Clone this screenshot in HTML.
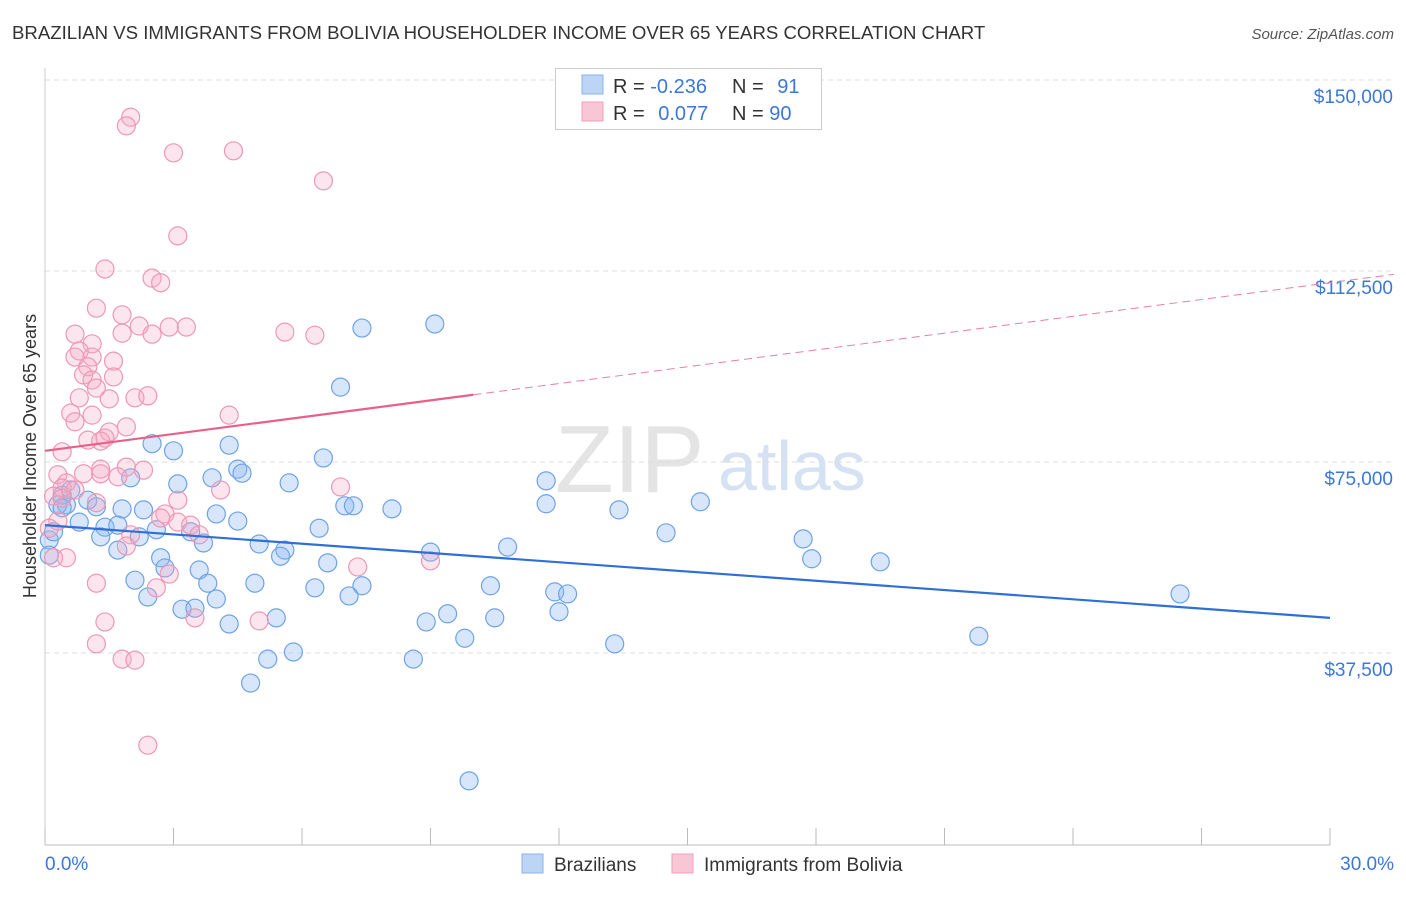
<!DOCTYPE html>
<html><head><meta charset="utf-8"><style>
body{margin:0;background:#fff;font-family:"Liberation Sans",sans-serif;}
svg text{font-family:"Liberation Sans",sans-serif;}
</style></head><body>
<svg id="chart" width="1406" height="892">
<text x="12" y="39" font-size="18.6" fill="#333">BRAZILIAN VS IMMIGRANTS FROM BOLIVIA HOUSEHOLDER INCOME OVER 65 YEARS CORRELATION CHART</text>
<text x="1394" y="39" font-size="15" fill="#555" text-anchor="end" font-style="italic">Source: ZipAtlas.com</text>
<text x="36" y="456" font-size="18" fill="#333" text-anchor="middle" transform="rotate(-90 36 456)">Householder Income Over 65 years</text>
<text x="555" y="492" font-size="96" fill="#e4e4e4" font-family="Liberation Serif">ZIP</text>
<text x="718" y="490" font-size="70" fill="#d4e2f4">atlas</text>
<g id="grid"></g><g id="axes"></g><g id="pts"></g><g id="trends"></g>
<g>
<rect x="555.5" y="68.5" width="266" height="61" fill="#fff" stroke="#ccc"/>
<rect x="582" y="75" width="21" height="19" fill="#bcd5f5" stroke="#8ab4ea"/>
<rect x="582" y="102" width="21" height="19" fill="#f9c6d5" stroke="#f0a0b8"/>
<text x="613" y="93" font-size="20" fill="#333">R = <tspan fill="#3b78d8">-0.236</tspan></text>
<text x="732" y="93" font-size="20" fill="#333">N = <tspan fill="#3b78d8" dx="8">91</tspan></text>
<text x="613" y="120" font-size="20" fill="#333">R = <tspan fill="#3b78d8" dx="8">0.077</tspan></text>
<text x="732" y="120" font-size="20" fill="#333">N = <tspan fill="#3b78d8">90</tspan></text>
</g>
<g>
<rect x="522" y="854" width="21" height="19" fill="#bcd5f5" stroke="#8ab4ea"/>
<text x="554" y="871" font-size="19" fill="#333">Brazilians</text>
<rect x="672" y="854" width="21" height="19" fill="#f9c6d5" stroke="#f0a0b8"/>
<text x="704" y="871" font-size="19" fill="#333">Immigrants from Bolivia</text>
</g>
</svg>
<script>
const yTicks=[37500,75000,112500,150000];
const yTickLabels=["$37,500","$75,000","$112,500","$150,000"];
const xTickLabels=["0.0%","30.0%"];
const blueX=[9.1,7.4,6.9,2.5,3.0,4.3,6.5,4.5,4.6,3.9,2.0,3.1,5.7,11.7,15.3,0.4,0.6,1.0,0.5,0.3,0.4,1.2,1.8,2.3,4.0,6.4,7.0,7.2,8.1,13.4,11.7,4.5,0.8,1.4,1.7,1.3,2.2,2.6,3.4,3.7,5.0,5.6,5.5,9.0,10.8,14.5,17.7,17.9,19.5,1.7,2.7,2.8,3.6,6.6,2.1,3.8,4.9,6.3,7.4,7.1,10.4,11.9,12.2,2.4,4.0,3.2,3.5,12.0,9.4,10.5,8.9,5.4,4.3,26.5,21.8,9.8,13.3,5.8,5.2,8.6,4.8,9.9,0.1,0.1,0.2];
const blueY=[102.1,101.3,89.7,78.6,77.2,78.3,75.8,73.6,72.8,71.9,71.9,70.7,70.9,71.3,67.2,68.5,69.5,67.5,66.6,66.6,66.0,66.2,65.8,65.6,64.8,62.0,66.4,66.4,65.8,65.6,66.8,63.4,63.2,62.2,62.6,60.3,60.3,61.7,61.3,59.1,58.9,57.7,56.5,57.3,58.3,61.1,59.9,56.0,55.4,57.7,56.2,54.2,53.8,55.2,51.8,51.2,51.2,50.3,50.7,48.7,50.7,49.5,49.1,48.5,48.1,46.1,46.3,45.6,45.2,44.4,43.6,44.4,43.2,49.1,40.8,40.4,39.3,37.7,36.3,36.3,31.6,12.4,59.7,56.7,61.3];
const pinkX=[2.0,1.9,3.0,4.4,6.5,3.1,1.4,2.5,2.7,1.2,1.8,2.2,2.9,3.3,5.6,6.3,0.7,1.8,2.5,1.1,0.8,1.1,0.7,1.6,1.0,0.9,1.1,1.6,1.2,0.8,1.5,2.1,2.4,0.6,1.1,4.3,0.7,1.9,1.5,1.4,1.0,1.3,0.4,1.3,1.9,2.3,0.3,0.9,1.3,1.7,0.5,0.4,0.7,6.9,4.1,3.1,1.2,0.2,0.4,2.8,2.7,3.1,3.4,3.6,0.3,0.1,2.0,1.9,0.2,0.5,7.3,9.0,2.9,2.6,1.2,3.5,5.0,1.4,1.2,1.8,2.1,2.4];
const pinkY=[142.7,141.0,135.7,136.1,130.2,119.4,112.9,111.1,110.2,105.2,103.9,101.7,101.5,101.5,100.5,99.9,100.1,100.3,100.1,98.2,96.8,95.6,95.6,94.8,93.7,92.1,91.1,91.7,89.5,87.6,87.4,87.6,88.0,84.6,84.2,84.2,82.9,81.9,80.9,79.7,79.3,79.1,77.0,73.6,74.0,73.4,72.5,72.7,72.7,72.1,70.9,69.9,69.5,70.1,69.5,67.5,67.0,68.3,67.9,64.8,64.0,63.2,62.6,60.7,63.4,62.0,60.7,58.5,56.2,56.2,54.4,55.6,53.0,50.3,51.2,44.4,43.8,43.6,39.3,36.3,36.1,19.4];
const blueTrend=[62.6,44.4];
const pinkTrend=[77.2,110.2];
const pinkSolidEnd=10;
const NS="http://www.w3.org/2000/svg";
const X0=45,X1=1330,YB=844,PX_PER_K=191/37.5;
const xs=p=>X0+p/30*(X1-X0);
const ys=k=>YB-k*PX_PER_K;
function mk(tag,attrs,parent){const e=document.createElementNS(NS,tag);for(const k in attrs)e.setAttribute(k,attrs[k]);document.getElementById(parent).appendChild(e);return e;}
yTicks.forEach((v,i)=>{
  const y=ys(v/1000);
  const g=mk('line',{x1:45,x2:1394,y1:y,y2:y,stroke:'#ddd','stroke-dasharray':'5,4'},'grid');
  
  
  const t=mk('text',{x:1393,y:y+23,'font-size':19,fill:'#3b78d8','text-anchor':'end'},'axes');
  t.textContent=yTickLabels[i];
  
  
});
const ax=mk('line',{x1:45,x2:1330,y1:845,y2:845,stroke:'#bbb'},'axes');


const ay=mk('line',{x1:45,x2:45,y1:68,y2:845,stroke:'#ccc'},'axes');


for(let i=0;i<=10;i++){const x=xs(i*3);const t=mk('line',{x1:x,x2:x,y1:828,y2:845,stroke:'#bbb'},'axes');

}
[[0,'start',45],[1,'end',1394]].forEach(([i,a,x])=>{const t=mk('text',{x:x,y:870,'font-size':19,fill:'#3b78d8','text-anchor':a},'axes');t.textContent=xTickLabels[i];

});
blueX.forEach((x,i)=>{const c=mk('circle',{cx:xs(x),cy:ys(blueY[i]),r:9,fill:'rgba(140,184,240,0.35)',stroke:'#6ea3e6','stroke-width':1.2},'pts');

});
pinkX.forEach((x,i)=>{const c=mk('circle',{cx:xs(x),cy:ys(pinkY[i]),r:9,fill:'rgba(245,170,195,0.3)',stroke:'#ee98b4','stroke-width':1.2},'pts');

});
const bl=mk('line',{x1:xs(0),y1:ys(blueTrend[0]),x2:xs(30),y2:ys(blueTrend[1]),stroke:'#2f6fd6','stroke-width':2.2},'trends');


const pm=pinkTrend[0]+(pinkTrend[1]-pinkTrend[0])*pinkSolidEnd/30;
const pl=mk('line',{x1:xs(0),y1:ys(pinkTrend[0]),x2:xs(pinkSolidEnd),y2:ys(pm),stroke:'#e8608a','stroke-width':2.2},'trends');


const pe=pinkTrend[0]+(pinkTrend[1]-pinkTrend[0])*31.5/30;
const pd=mk('line',{x1:xs(pinkSolidEnd),y1:ys(pm),x2:xs(31.5),y2:ys(pe),stroke:'#e8809e','stroke-width':1,'stroke-dasharray':'8,5'},'trends');


</script>
</body></html>
